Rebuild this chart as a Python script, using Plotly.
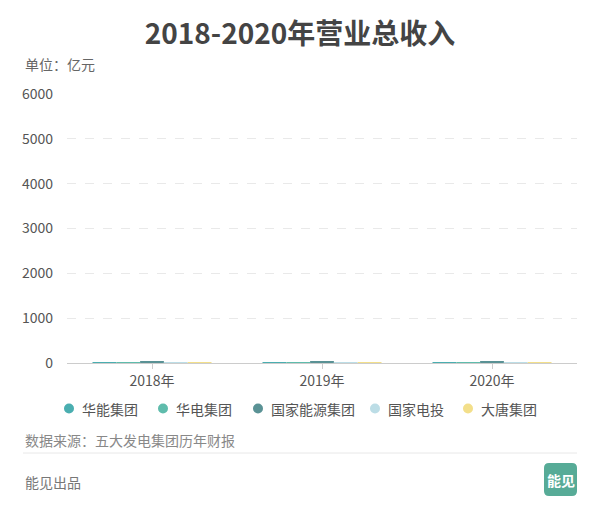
import plotly.graph_objects as go

years = ["2018年", "2019年", "2020年"]
companies = ["华能集团", "华电集团", "国家能源集团", "国家电投", "大唐集团"]
colors = ["#4aaeb0", "#5fbcac", "#5a9295", "#bcdde6", "#f3df8a"]
values = {
    "华能集团": [12, 12, 12],
    "华电集团": [10, 10, 10],
    "国家能源集团": [40, 40, 40],
    "国家电投": [11, 11, 11],
    "大唐集团": [10, 10, 10],
}
y_ticks = [0, 1000, 2000, 3000, 4000, 5000, 6000]

FONT = "Noto Sans CJK SC"
fig = go.Figure()
for name, col in zip(companies, colors):
    fig.add_trace(go.Bar(x=years, y=values[name], name=name,
                         marker=dict(color=col, line=dict(width=0)), showlegend=False))

W, H = 600, 510
L, R, T, B = 67, 23, 94, 147
PW, PH = W - L - R, H - T - B
px = lambda v: (v - L) / PW
py = lambda v: -(v - (H - B)) / PH

fig.update_layout(
    width=W, height=H,
    margin=dict(l=L, r=R, t=T, b=B, autoexpand=False),
    paper_bgcolor="white", plot_bgcolor="white",
    font=dict(family=FONT, color="#555"),
    barmode="group", bargap=0.3, bargroupgap=0,
    title=dict(text="<b>2018-2020年营业总收入</b>", x=0.5, xanchor="center",
               y=1 - 34 / H, yanchor="middle", font=dict(size=28, color="#444", family=FONT)),
    showlegend=False,
    xaxis=dict(type="category", range=[-0.5, 2.5], showline=True, linecolor="#cccccc", linewidth=1,
               ticks="outside", ticklen=5, tickcolor="#cccccc", showgrid=False,
               tickfont=dict(size=14, color="#555", family=FONT), fixedrange=True),
    yaxis=dict(range=[0, 6000], tickvals=y_ticks, showgrid=True, gridcolor="#e9e9e9",
               griddash="dash", gridwidth=1, zeroline=False, showline=False,
               tickfont=dict(size=14, color="#555", family=FONT), ticks="", ticklabelstandoff=13,
               fixedrange=True),
)

def ann(text, x, y, size, color, xanchor="left"):
    fig.add_annotation(text=text, xref="paper", yref="paper",
                       x=px(x), y=py(y), xanchor=xanchor, yanchor="middle",
                       showarrow=False, font=dict(size=size, color=color, family=FONT))

ann("单位：亿元", 23, 64, 14, "#666")
ann("数据来源：五大发电集团历年财报", 23, 440, 14, "#888")
ann("能见出品", 23, 482, 14, "#777")

# legend (circle + label per series)
legend_x = [69, 163, 258, 375, 468]
legend_y = 408.5
for name, col, lx in zip(companies, colors, legend_x):
    fig.add_shape(type="circle", xref="paper", yref="paper",
                  x0=px(lx - 5), x1=px(lx + 5), y0=py(legend_y + 5), y1=py(legend_y - 5),
                  fillcolor=col, line=dict(width=0))
    fig.add_annotation(text=name, xref="paper", yref="paper", x=px(lx + 11), y=py(legend_y),
                       xanchor="left", yanchor="middle", showarrow=False,
                       font=dict(size=14, color="#555", family=FONT))

# separator line
fig.add_shape(type="line", xref="paper", yref="paper",
              x0=px(23), x1=px(577), y0=py(453), y1=py(453),
              line=dict(color="#e8e8e8", width=1))

# logo
lx0, lx1, ly0, ly1 = 544, 577, 463, 496
r = 5
path = (f"M {px(lx0 + r)} {py(ly0)} L {px(lx1 - r)} {py(ly0)} Q {px(lx1)} {py(ly0)} {px(lx1)} {py(ly0 + r)} "
        f"L {px(lx1)} {py(ly1 - r)} Q {px(lx1)} {py(ly1)} {px(lx1 - r)} {py(ly1)} "
        f"L {px(lx0 + r)} {py(ly1)} Q {px(lx0)} {py(ly1)} {px(lx0)} {py(ly1 - r)} "
        f"L {px(lx0)} {py(ly0 + r)} Q {px(lx0)} {py(ly0)} {px(lx0 + r)} {py(ly0)} Z")
fig.add_shape(type="path", path=path, xref="paper", yref="paper",
              fillcolor="#57ab97", line=dict(width=0))
ann("<b>能见</b>", 560.5, 480, 14, "white", xanchor="center")

fig.write_html("out.html", config={"displayModeBar": False},
               post_script="document.body.style.margin='0';document.body.style.overflow='hidden';")
